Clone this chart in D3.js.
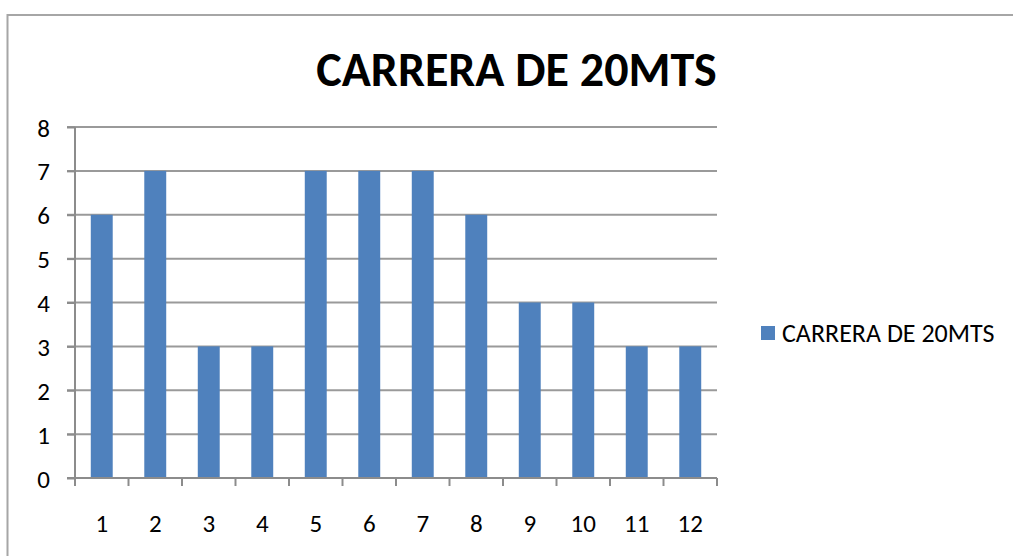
<!DOCTYPE html>
<html>
<head>
<meta charset="utf-8">
<script src="https://cdn.jsdelivr.net/npm/d3@7"></script>
<style>
  body { margin: 0; background: #fff; }
  text { font-family: Carlito, Calibri, "Liberation Sans", Arial, sans-serif; fill: #000; }
</style>
</head>
<body>
<div id="chart"></div>
<script>
var categorias = ["1", "2", "3", "4", "5", "6", "7", "8", "9", "10", "11", "12"];
var valores = [6, 7, 3, 3, 7, 7, 7, 6, 4, 4, 3, 3];
var ticksY = [0, 1, 2, 3, 4, 5, 6, 7, 8];
var titulo = "CARRERA DE 20MTS";
var serie = "CARRERA DE 20MTS";

var width = 1013, height = 556;
var margem = {left: 75, right: 296, top: 127, bottom: 78};

var svg = d3.select("#chart")
    .append("svg")
    .attr("width", width)
    .attr("height", height);

// borda do grafico
svg.append("path")
    .attr("d", "M7.5,560 L7.5,15 L1020,15")
    .attr("fill", "none")
    .attr("stroke", "#a6a6a6")
    .attr("stroke-width", 2);

var x = d3.scaleBand()
    .domain(categorias)
    .range([margem.left, width - margem.right])
    .paddingInner(0.59)
    .paddingOuter(0.295);

var xTicks = d3.scaleBand()
    .domain(categorias)
    .range([margem.left, width - margem.right]);

var y = d3.scaleLinear()
    .domain([0, 8])
    .range([height - margem.bottom, margem.top]);

// grade
svg.append("g")
    .selectAll("line")
    .data(ticksY.slice(1))
    .enter()
    .append("line")
    .attr("x1", margem.left - 8)
    .attr("x2", width - margem.right)
    .attr("y1", function (d) { return y(d); })
    .attr("y2", function (d) { return y(d); })
    .attr("stroke", "#9a9a9a")
    .attr("stroke-width", 2);

// eixo y
var eixoY = svg.append("g")
    .attr("transform", "translate(" + margem.left + ",0)")
    .call(d3.axisLeft(y).tickValues(ticksY).tickSize(8).tickPadding(17));
eixoY.attr("font-family", null).attr("font-size", null);
eixoY.selectAll("line, path").attr("stroke", "#8c8c8c").attr("stroke-width", 2);
eixoY.selectAll("text").style("font-size", "25px").attr("dy", "0.36em");
eixoY.select(".domain").attr("d", "M0," + y(8) + "V" + y(0));

// barras
svg.append("g")
    .selectAll("rect")
    .data(valores)
    .enter()
    .append("rect")
    .attr("x", function (d, i) { return x(categorias[i]); })
    .attr("width", x.bandwidth())
    .attr("y", function (d) { return y(d); })
    .attr("height", function (d) { return y(0) - y(d); })
    .style("fill", "#4f81bd");

// eixo x
var eixoX = svg.append("g")
    .attr("transform", "translate(0," + y(0) + ")");
eixoX.append("line")
    .attr("x1", margem.left - 8)
    .attr("x2", width - margem.right)
    .attr("stroke", "#8c8c8c")
    .attr("stroke-width", 2);
eixoX.selectAll("line.tick")
    .data(categorias.concat(["fim"]))
    .enter()
    .append("line")
    .attr("class", "tick")
    .attr("x1", function (d, i) { return margem.left + i * xTicks.step(); })
    .attr("x2", function (d, i) { return margem.left + i * xTicks.step(); })
    .attr("y1", 0)
    .attr("y2", 8)
    .attr("stroke", "#8c8c8c")
    .attr("stroke-width", 2);
eixoX.selectAll("text")
    .data(categorias)
    .enter()
    .append("text")
    .attr("x", function (d) { return xTicks(d) + xTicks.bandwidth() / 2; })
    .attr("y", 54)
    .attr("text-anchor", "middle")
    .style("font-size", "25px")
    .text(function (d) { return d; });

// titulo
svg.append("text")
    .attr("x", 516.5)
    .attr("y", 86)
    .attr("text-anchor", "middle")
    .style("font-size", "48px")
    .attr("font-weight", "bold")
    .text(titulo);

// legenda
svg.append("rect")
    .attr("x", 761)
    .attr("y", 326)
    .attr("width", 14)
    .attr("height", 14)
    .style("fill", "#4f81bd");
svg.append("text")
    .attr("x", 782)
    .attr("y", 342)
    .style("font-size", "26px")
    .text(serie);
</script>
</body>
</html>
